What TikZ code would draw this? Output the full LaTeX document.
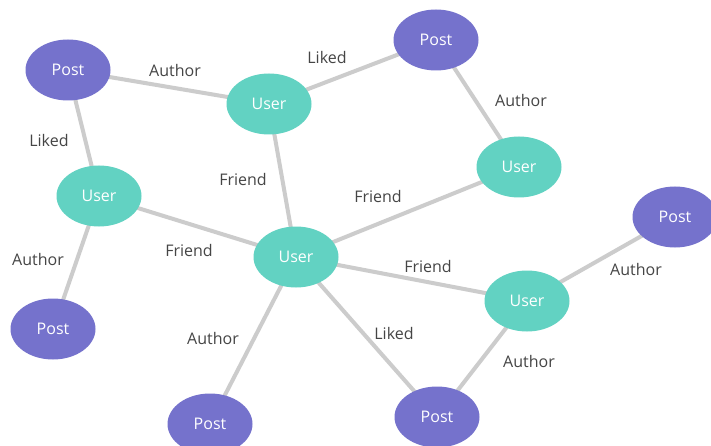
\documentclass[tikz,border=0pt]{standalone}
\usepackage{fontspec}
\setmainfont{Open Sans}
\usetikzlibrary{shapes.geometric,backgrounds}
\definecolor{postc}{HTML}{7572CC}
\definecolor{userc}{HTML}{62D2C2}
\definecolor{edgec}{HTML}{CCCCCC}
\definecolor{labc}{HTML}{454545}
\begin{document}
\begin{tikzpicture}[x=1pt,y=-1pt,
  nd/.style={ellipse,minimum width=85pt,minimum height=61pt,inner sep=0pt,text=white,font=\fontsize{16}{18}\selectfont},
  post/.style={nd,fill=postc},
  user/.style={nd,fill=userc},
  lab/.style={text=labc,font=\fontsize{16}{18}\selectfont},
  edge/.style={draw=edgec,line width=4pt}]
\useasboundingbox (0,0) rectangle (711,446);
\clip (0,0) rectangle (711,446);
\node[post] (p1) at (68,70) {Post};
\node[user] (ua) at (269,104) {User};
\node[post] (p2) at (436,40) {Post};
\node[user] (ub) at (519,167) {User};
\node[user] (uc) at (99,196) {User};
\node[user] (u0) at (296,257) {User};
\node[post] (p3) at (675,217) {Post};
\node[user] (ud) at (527,301) {User};
\node[post] (p4) at (53,329) {Post};
\node[post] (p5) at (210,424) {Post};
\node[post] (p6) at (437,417) {Post};
\begin{scope}[on background layer]
\fill[white] (0,0) rectangle (711,446);
\draw[edge] (p1.center) -- (ua.center);
\draw[edge] (ua.center) -- (p2.center);
\draw[edge] (p2.center) -- (ub.center);
\draw[edge] (p1.center) -- (uc.center);
\draw[edge] (ua.center) -- (u0.center);
\draw[edge] (ub.center) -- (u0.center);
\draw[edge] (uc.center) -- (u0.center);
\draw[edge] (uc.center) -- (p4.center);
\draw[edge] (u0.center) -- (ud.center);
\draw[edge] (ud.center) -- (p3.center);
\draw[edge] (u0.center) -- (p5.center);
\draw[edge] (u0.center) -- (p6.center);
\draw[edge] (ud.center) -- (p6.center);
\end{scope}
\node[lab] (l1) at (175,71) {Author};
\node[lab] (l2) at (327,58) {Liked};
\node[lab] (l3) at (521,101) {Author};
\node[lab] (l4) at (49,141) {Liked};
\node[lab] (l5) at (243,180) {Friend};
\node[lab] (l6) at (378,197) {Friend};
\node[lab] (l7) at (38,259) {Author};
\node[lab] (l8) at (189,250) {Friend};
\node[lab] (l9) at (428,266) {Friend};
\node[lab] (l10) at (636,269) {Author};
\node[lab] (l11) at (213,338) {Author};
\node[lab] (l12) at (394,333) {Liked};
\node[lab] (l13) at (529,361) {Author};
\end{tikzpicture}
\end{document}
